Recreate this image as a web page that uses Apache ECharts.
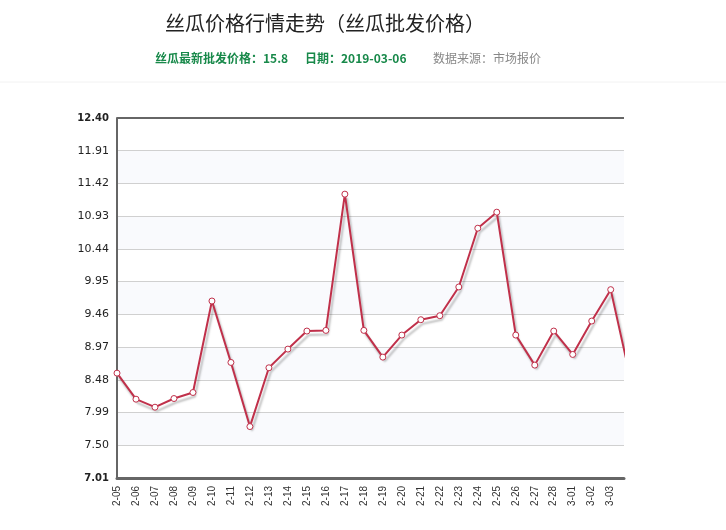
<!DOCTYPE html>
<html>
<head>
<meta charset="utf-8">
<script src="https://cdn.jsdelivr.net/npm/echarts@6/dist/echarts.min.js"></script>
<style>html,body{margin:0;padding:0;background:#fff}#main{width:726px;height:530px}</style>
</head>
<body>
<div id="main"></div>
<script>
var days = ['2-05', '2-06', '2-07', '2-08', '2-09', '2-10', '2-11', '2-12', '2-13', '2-14',
    '2-15', '2-16', '2-17', '2-18', '2-19', '2-20', '2-21', '2-22', '2-23', '2-24',
    '2-25', '2-26', '2-27', '2-28', '3-01', '3-02', '3-03', '3-04'];
var prices = [8.58, 8.19, 8.07, 8.20, 8.29, 9.66, 8.74, 7.78, 8.66, 8.94,
    9.21, 9.22, 11.26, 9.22, 8.82, 9.15, 9.38, 9.44, 9.87, 10.75,
    10.99, 9.15, 8.70, 9.21, 8.86, 9.36, 9.83, 8.55];
var yMin = 7.01, yMax = 12.40, yStep = 0.49;

var chart = echarts.init(document.getElementById('main'));
chart.setOption({
    animation: false,
    title: {
        text: '丝瓜价格行情走势（丝瓜批发价格）',
        left: 160,
        top: 8,
        textStyle: { fontSize: 20, fontWeight: 'normal', color: '#222', fontFamily: 'Noto Sans CJK SC' }
    },
    graphic: [
        { type: 'text', left: 155, top: 52, style: { text: '丝瓜最新批发价格：15.8', fill: '#18894a', font: 'bold 12px "Noto Sans CJK SC"' } },
        { type: 'text', left: 305, top: 52, style: { text: '日期：2019-03-06', fill: '#18894a', font: 'bold 12px "Noto Sans CJK SC"' } },
        { type: 'text', left: 433, top: 52, style: { text: '数据来源：市场报价', fill: '#888', font: '12px "Noto Sans CJK SC"' } },
        { type: 'line', shape: { x1: 0, y1: 82, x2: 726, y2: 82 }, style: { stroke: '#f2f2f2', lineWidth: 1 } },
        { type: 'line', shape: { x1: 117, y1: 118, x2: 624, y2: 118 }, style: { stroke: '#666', lineWidth: 2 }, z: 10 }
    ],
    grid: { left: 117, right: 102, top: 118, bottom: 52 },
    xAxis: {
        type: 'value',
        min: 0,
        max: 26.7,
        interval: 1,
        axisLine: { lineStyle: { color: '#666', width: 3 } },
        axisTick: { show: false },
        splitLine: { show: false },
        axisLabel: {
            rotate: 90,
            fontSize: 10,
            color: '#333',
            showMaxLabel: false,
            formatter: function (v) { return days[Math.round(v)] || ''; }
        }
    },
    yAxis: {
        type: 'value',
        min: yMin,
        max: yMax,
        interval: yStep,
        axisLine: { show: true, lineStyle: { color: '#666', width: 2 } },
        axisTick: { show: false },
        splitLine: { lineStyle: { color: '#d0d0d0' } },
        splitArea: { show: true, areaStyle: { color: ['#ffffff', '#f9fafd'] } },
        axisLabel: {
            fontSize: 11,
            color: '#222',
            fontFamily: 'DejaVu Sans',
            formatter: function (v) {
                var s = v.toFixed(2);
                return Math.abs(v - yMax) < 0.001 || Math.abs(v - yMin) < 0.001 ? '{b|' + s + '}' : s;
            },
            rich: { b: { fontWeight: 'bold', fontSize: 10, fontFamily: 'DejaVu Sans' } }
        }
    },
    series: [{
        type: 'line',
        data: prices.map(function (p, i) { return [i, p]; }),
        clip: true,
        symbol: 'circle',
        symbolSize: 6,
        itemStyle: { color: '#fff', borderColor: '#c0304a', borderWidth: 1 },
        lineStyle: {
            color: '#c0304a',
            width: 2,
            shadowColor: 'rgba(0,0,0,0.25)',
            shadowBlur: 2,
            shadowOffsetX: 2,
            shadowOffsetY: 4
        }
    }]
});
window.addEventListener('resize', function () {
    chart.resize();
});
</script>
</body>
</html>
